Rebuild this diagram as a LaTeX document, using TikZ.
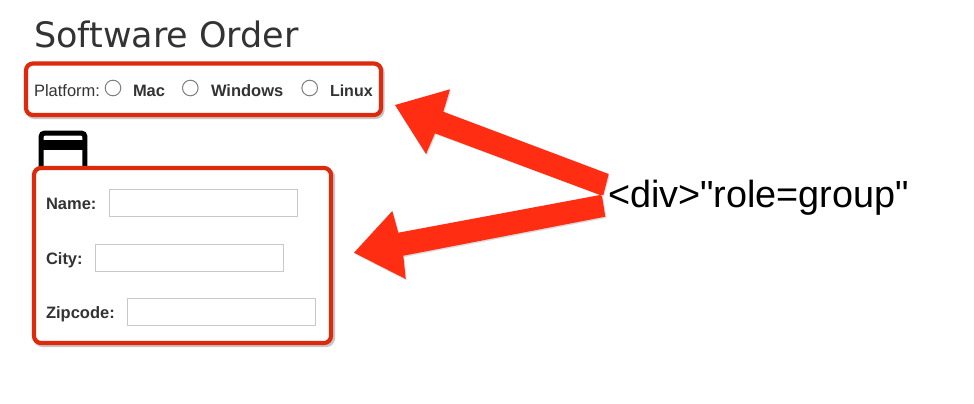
\documentclass[tikz,border=0pt]{standalone}
\usepackage{fontspec}
\setmainfont{Liberation Sans}
\newfontfamily\titlefont{DejaVu Sans}
\newfontfamily\rolefont{Liberation Sans}
\definecolor{boxred}{HTML}{DD2A0C}
\definecolor{arrowred}{HTML}{FF2D12}
\definecolor{ink}{HTML}{333333}
\definecolor{fieldline}{HTML}{C8C8C8}
\definecolor{radioline}{HTML}{808080}
\tikzset{
  groupbox/.style={draw=boxred,line width=4.2pt,rounded corners=7pt,fill=white},
  groupshadow/.style={draw=black!22,line width=4.2pt,rounded corners=7pt},
  fieldbox/.style={draw=fieldline,line width=1pt,fill=white,minimum width=188pt,minimum height=27pt,inner sep=0pt,outer sep=0pt,anchor=north west},
  radiobtn/.style={draw=radioline,line width=1pt,fill=white},
  txt/.style={anchor=base west,inner sep=0pt,outer sep=0pt,text=ink},
  fieldlabel/.style={txt,font=\fontsize{16.5}{18}\selectfont\bfseries},
  bigarrow/.style={fill=arrowred},
  arrowshadow/.style={fill=black!14}
}
\begin{document}
\begin{tikzpicture}[x=1pt,y=-1pt]
\useasboundingbox (0,0) rectangle (974,404);
\fill[white] (0,0) rectangle (974,404);
% title
\node[txt,font=\titlefont\fontsize{35}{40}\selectfont] (title) at (34,48) {Software Order};
% top group
\draw[groupshadow] (27.5,65.5) rectangle (382.5,117);
\draw[groupbox] (26,63.5) rectangle (381,115);
\node[txt,font=\fontsize{16.5}{20}\selectfont] (platform) at (34,96) {Platform:};
\draw[radiobtn] (113,88) circle (7.8) node (radioA) {};
\draw[radiobtn] (190.3,88) circle (7.8) node (radioB) {};
\draw[radiobtn] (309.7,88) circle (7.8) node (radioC) {};
\node[fieldlabel] (mac) at (133,96) {Mac};
\node[fieldlabel] (windows) at (211,96) {Windows};
\node[fieldlabel,font=\fontsize{16}{18}\selectfont\bfseries] (linux) at (330,96) {Linux};
% icon
\draw[black,line width=5pt,rounded corners=3pt] (41.2,133.2) rectangle (84.8,172);
\fill[black] (41,140) rectangle (85,149.5);
% lower group
\draw[groupshadow] (35.5,170) rectangle (333,345);
\draw[groupbox] (34,168) rectangle (331,343);
\node[fieldlabel] (name) at (46,209) {Name:};
\node[fieldlabel] (city) at (46,264) {City:};
\node[fieldlabel] (zip) at (46,318) {Zipcode:};
\node[fieldbox] (nameField) at (109.5,189.5) {};
\node[fieldbox] (cityField) at (95.5,244.5) {};
\node[fieldbox] (zipField) at (127.5,298.5) {};
% arrows: shadows
\fill[arrowshadow] (396,106.5) -- (451,90.5) -- (444.3,113) -- (609.7,175.5) -- (604,196) -- (436,134.5) -- (427,155.5) -- cycle;
\fill[arrowshadow] (355,254) -- (393.3,212.5) -- (399.3,234) -- (603,197) -- (606.3,218) -- (404.3,257) -- (406.7,280.5) -- cycle;
% arrows
\fill[bigarrow] (395,105) -- (450,89.3) -- (443.3,111.7) -- (608.7,174) -- (603.3,195) -- (600,195) -- (435,133.3) -- (426,154) -- cycle;
\fill[bigarrow] (354,252.7) -- (392.3,211) -- (398.3,232.7) -- (600,195) -- (602,196) -- (605.3,216.7) -- (403.3,255.7) -- (405.7,279) -- cycle;
% big label
\node[txt,text=black,font=\rolefont\fontsize{37.8}{40}\selectfont] (role) at (608,207) {<div>"role=group"};
\end{tikzpicture}
\end{document}
